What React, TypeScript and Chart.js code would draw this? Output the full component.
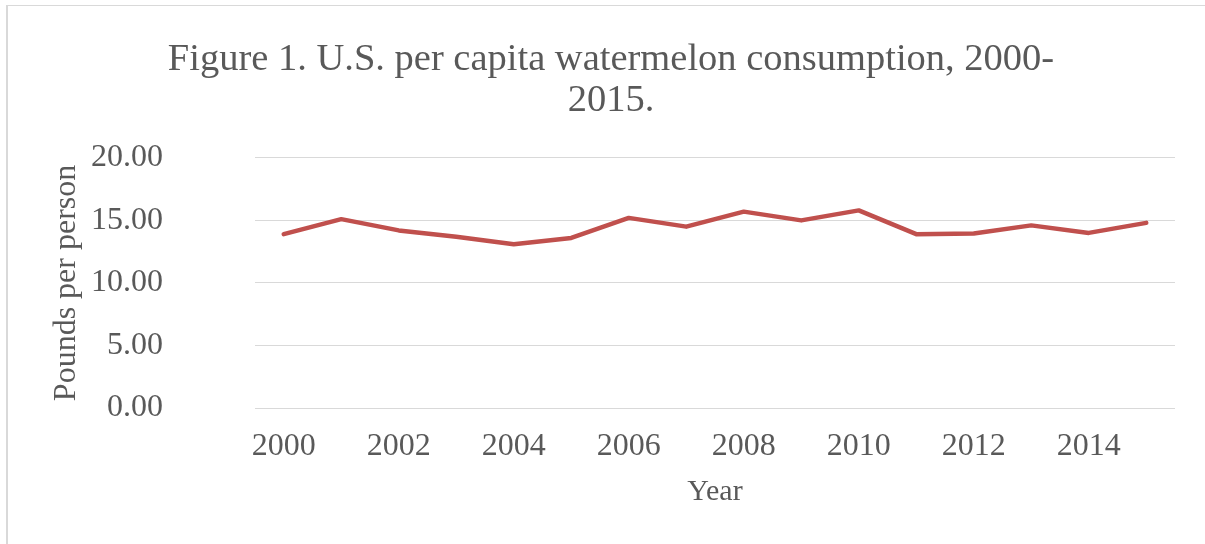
import React, { useEffect, useRef } from "react";
import { Chart, registerables } from "chart.js";

Chart.register(...registerables);

const years: string[] = [
  "2000", "2001", "2002", "2003", "2004", "2005", "2006", "2007",
  "2008", "2009", "2010", "2011", "2012", "2013", "2014", "2015",
];
const poundsPerPerson: number[] = [
  13.9, 15.1, 14.2, 13.7, 13.1, 13.6, 15.2, 14.5,
  15.7, 15.0, 15.8, 13.9, 13.95, 14.6, 14.0, 14.8,
];
const titleLines: string[] = [
  "Figure 1. U.S. per capita watermelon consumption, 2000-",
  "2015.",
];
const yAxisTitle = "Pounds per person";
const xAxisTitle = "Year";

const FONT = "'Liberation Serif', 'Times New Roman', serif";
const TEXT = "#595959";
const GRID = "#d9d9d9";

export default function App() {
  const ref = useRef<HTMLCanvasElement | null>(null);

  useEffect(() => {
    if (!ref.current) return;
    const chart = new Chart(ref.current, {
      type: "line",
      data: {
        labels: years,
        datasets: [
          {
            data: poundsPerPerson,
            borderColor: "#C0504D",
            backgroundColor: "#C0504D",
            borderWidth: 4.5,
            pointRadius: 0,
            borderCapStyle: "round",
            borderJoinStyle: "round",
            tension: 0,
          },
        ],
      },
      options: {
        animation: false,
        responsive: false,
        maintainAspectRatio: false,
        layout: { padding: { left: 47, right: 30, top: 0, bottom: 34 } },
        plugins: {
          legend: { display: false },
          tooltip: { enabled: false },
          title: {
            display: true,
            text: titleLines,
            color: TEXT,
            font: { family: FONT, size: 38.5, weight: "normal", lineHeight: 1.05 },
            padding: { top: 40, bottom: 37 },
          },
        },
        scales: {
          x: {
            offset: true,
            afterFit: (scale: any) => {
              scale.height = 102;
            },
            grid: { display: false, drawTicks: false },
            border: { display: false },
            ticks: {
              autoSkip: false,
              maxRotation: 0,
              padding: 19,
              color: TEXT,
              font: { family: FONT, size: 32 },
              callback: (_v: any, i: number) => (i % 2 === 0 ? years[i] : ""),
            },
            title: {
              display: true,
              text: xAxisTitle,
              color: TEXT,
              font: { family: FONT, size: 30 },
              padding: { top: 8.6, bottom: 0 },
            },
          },
          y: {
            min: 0,
            max: 20,
            afterFit: (scale: any) => {
              scale.width = 208;
            },
            grid: { color: GRID, lineWidth: 1, drawTicks: false },
            border: { display: false },
            ticks: {
              stepSize: 5,
              padding: 92,
              color: TEXT,
              font: { family: FONT, size: 32 },
              callback: (v: any) => Number(v).toFixed(2),
            },
            title: {
              display: true,
              text: yAxisTitle,
              color: TEXT,
              font: { family: FONT, size: 32 },
              padding: 0,
            },
          },
        },
      },
    });
    return () => chart.destroy();
  }, []);

  return (
    <div style={{ position: "fixed", left: 0, top: 0, width: 1205, height: 544, background: "#fff", overflow: "hidden" }}>
      <div
        style={{
          position: "absolute",
          left: 6,
          top: 5,
          width: 1220,
          height: 560,
          borderLeft: "2px solid #d9d9d9",
          borderTop: "1px solid #d9d9d9",
        }}
      />
      <canvas ref={ref} width={1205} height={544} style={{ position: "absolute", left: 0, top: 0, width: 1205, height: 544 }} />
    </div>
  );
}
